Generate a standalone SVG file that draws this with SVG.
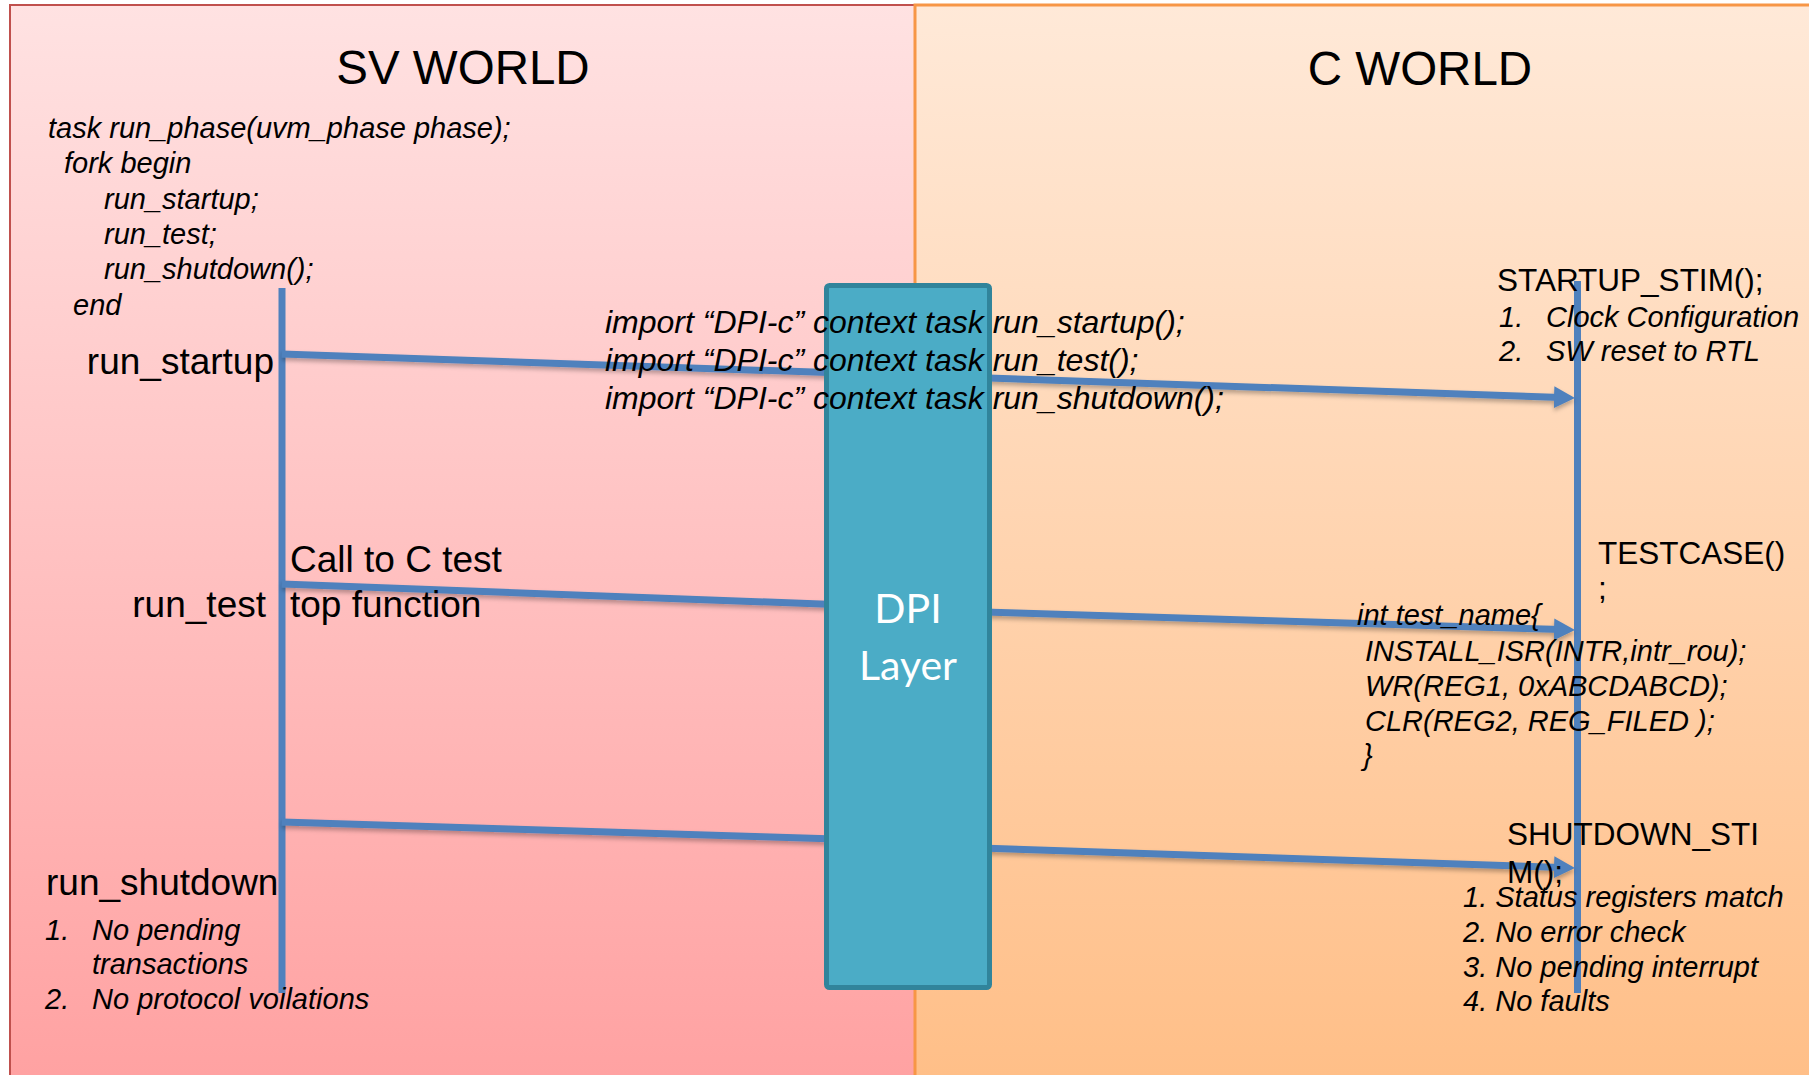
<svg xmlns="http://www.w3.org/2000/svg" width="1809" height="1075" viewBox="0 0 1809 1075">
  <defs>
    <linearGradient id="gSV" gradientUnits="userSpaceOnUse" x1="0" y1="5" x2="0" y2="1075">
      <stop offset="0" stop-color="#ffe2e2"/>
      <stop offset="1" stop-color="#ffa2a2"/>
    </linearGradient>
    <linearGradient id="gC" gradientUnits="userSpaceOnUse" x1="0" y1="5" x2="0" y2="1075">
      <stop offset="0" stop-color="#ffe9d8"/>
      <stop offset="1" stop-color="#ffbf88"/>
    </linearGradient>
    <marker id="arr" markerUnits="userSpaceOnUse" markerWidth="22" markerHeight="24" refX="7" refY="11" orient="auto">
      <path d="M0,0 L21,11 L0,22 Z" fill="#4f81bd"/>
    </marker>
    <filter id="sh" x="-5%" y="-50%" width="110%" height="200%">
      <feDropShadow dx="0" dy="3" stdDeviation="2" flood-color="#000" flood-opacity="0.28"/>
    </filter>
  </defs>
  <style>
    text { font-family: "Liberation Sans", Arial, sans-serif; fill: #000; }
    .title { font-size: 47.5px; }
    .lbl { font-size: 37px; }
    .cap { font-size: 31.5px; }
    .code { font-size: 29px; font-style: italic; }
    .imp { font-size: 32px; font-style: italic; }
    .dpi { font-family: Lato, "Open Sans", sans-serif; font-size: 41px; fill: #ffffff; }
    .ln { stroke: #4f81bd; stroke-width: 7; fill: none; }
  </style>

  <rect width="1809" height="1075" fill="#ffffff"/>

  <g id="sv-world">
    <rect x="10" y="5" width="905" height="1085" fill="url(#gSV)" stroke="#c0504d" stroke-width="2"/>
    <text class="title" x="463" y="84" text-anchor="middle">SV WORLD</text>
  </g>
  <g id="c-world">
    <rect x="915" y="5" width="905" height="1085" fill="url(#gC)" stroke="#f79646" stroke-width="3"/>
    <text class="title" x="1420" y="85" text-anchor="middle">C WORLD</text>
  </g>

  <g id="connectors">
    <line class="ln" x1="282" y1="288" x2="282" y2="993"/>
    <line class="ln" x1="1577.5" y1="281" x2="1577.5" y2="993"/>
    <g filter="url(#sh)">
      <line class="ln" x1="282" y1="354" x2="1561" y2="397.5" marker-end="url(#arr)"/>
      <line class="ln" x1="282" y1="584" x2="900" y2="607"/>
      <line class="ln" x1="920" y1="610" x2="1561" y2="629.6" marker-end="url(#arr)"/>
      <line class="ln" x1="282" y1="822" x2="900" y2="841"/>
      <line class="ln" x1="920" y1="846" x2="1561" y2="867.5" marker-end="url(#arr)"/>
    </g>
  </g>

  <g id="dpi-layer">
    <rect x="826.5" y="285.5" width="163" height="702" rx="3" fill="#4bacc6" stroke="#31849b" stroke-width="5"/>
    <text class="dpi" x="908" y="623" text-anchor="middle">DPI</text>
    <text class="dpi" x="908" y="680" text-anchor="middle">Layer</text>
  </g>

  <g id="sv-code">
    <text class="code" x="48" y="138">task run_phase(uvm_phase phase);</text>
    <text class="code" x="64" y="173">fork begin</text>
    <text class="code" x="104" y="209">run_startup;</text>
    <text class="code" x="104" y="244">run_test;</text>
    <text class="code" x="104" y="279">run_shutdown();</text>
    <text class="code" x="73" y="315">end</text>
  </g>

  <g id="run-startup">
    <text class="lbl" x="274" y="374" text-anchor="end">run_startup</text>
  </g>
  <g id="run-test">
    <text class="lbl" x="266" y="617" text-anchor="end">run_test</text>
    <text class="lbl" x="290" y="572">Call to C test</text>
    <text class="lbl" x="290" y="617">top function</text>
  </g>
  <g id="run-shutdown">
    <text class="lbl" x="46" y="895">run_shutdown</text>
    <text class="code" x="45" y="940">1.</text>
    <text class="code" x="92" y="940">No pending</text>
    <text class="code" x="92" y="974">transactions</text>
    <text class="code" x="45" y="1009">2.</text>
    <text class="code" x="92" y="1009">No protocol voilations</text>
  </g>

  <g id="imports">
    <text class="imp" x="605" y="333">import “DPI-c” context task run_startup();</text>
    <text class="imp" x="605" y="371">import “DPI-c” context task run_test();</text>
    <text class="imp" x="605" y="409">import “DPI-c” context task run_shutdown();</text>
  </g>

  <g id="startup-stim">
    <text class="cap" x="1497" y="291">STARTUP_STIM();</text>
    <text class="code" x="1499" y="327">1.</text>
    <text class="code" x="1546" y="327">Clock Configuration</text>
    <text class="code" x="1499" y="361">2.</text>
    <text class="code" x="1546" y="361">SW reset to RTL</text>
  </g>

  <g id="testcase">
    <text class="cap" x="1598" y="564">TESTCASE()</text>
    <text class="cap" x="1598" y="599">;</text>
    <text class="code" x="1357" y="625">int test_name{</text>
    <text class="code" x="1365" y="661">INSTALL_ISR(INTR,intr_rou);</text>
    <text class="code" x="1365" y="696">WR(REG1, 0xABCDABCD);</text>
    <text class="code" x="1365" y="731">CLR(REG2, REG_FILED );</text>
    <text class="code" x="1363" y="765">}</text>
  </g>

  <g id="shutdown-stim">
    <text class="cap" x="1507" y="845">SHUTDOWN_STI</text>
    <text class="cap" x="1507" y="883">M();</text>
    <text class="code" x="1463" y="907">1. Status registers match</text>
    <text class="code" x="1463" y="942">2. No error check</text>
    <text class="code" x="1463" y="977">3. No pending interrupt</text>
    <text class="code" x="1463" y="1011">4. No faults</text>
  </g>
</svg>
